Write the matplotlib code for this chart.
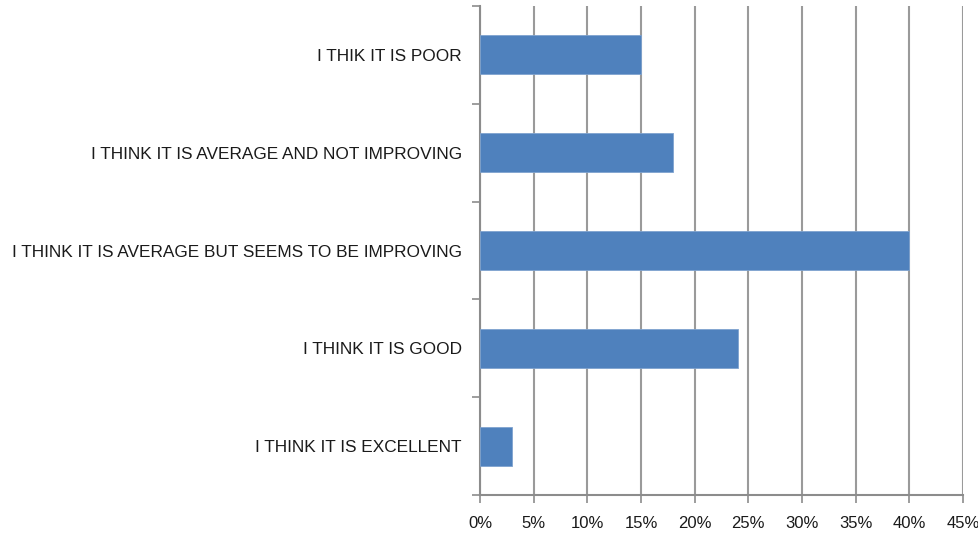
import numpy as np
import matplotlib.pyplot as plt
from matplotlib.ticker import PercentFormatter

# Survey answers, listed top to bottom
answers = [
    "I THIK IT IS POOR",
    "I THINK IT IS AVERAGE AND NOT IMPROVING",
    "I THINK IT IS AVERAGE BUT SEEMS TO BE IMPROVING",
    "I THINK IT IS GOOD",
    "I THINK IT IS EXCELLENT",
]
share = [15, 18, 40, 24, 3]  # percent of respondents
x_ticks = [0, 5, 10, 15, 20, 25, 30, 35, 40, 45]

plt.rcParams["font.family"] = ["Liberation Sans", "DejaVu Sans"]

fig = plt.figure(figsize=(9.79, 5.37), dpi=100)
ax = fig.add_axes([0.4903, 0.0782, 0.4934, 0.9106])

pos = np.arange(len(answers))
ax.barh(pos, share, height=0.4, color="#4F81BD", edgecolor="#7FA3CF", linewidth=0.6, zorder=3)

ax.set_ylim(len(answers) - 0.5, -0.5)
ax.set_xlim(0, 45)

# gridlines and x ticks
ax.set_xticks(x_ticks)
ax.xaxis.set_major_formatter(PercentFormatter(decimals=0))
ax.grid(axis="x", color="#9a9a9a", linewidth=1.5, zorder=0)
ax.tick_params(axis="x", direction="out", length=6, width=1.2, color="#8c8c8c",
               labelsize=12, labelcolor="#1a1a1a", pad=9)

# category boundaries get tick marks, labels sit at the centres
ax.set_yticks(np.arange(len(answers) + 1) - 0.5)
ax.set_yticklabels([])
ax.set_yticks(pos, minor=True)
ax.set_yticklabels(answers, minor=True)
ax.tick_params(axis="y", which="major", direction="out", length=6, width=1.2, color="#8c8c8c")
ax.tick_params(axis="y", which="minor", length=0, labelsize=12.4, labelcolor="#1a1a1a", pad=13)

for side in ["top", "right"]:
    ax.spines[side].set_visible(False)
for side in ["left", "bottom"]:
    ax.spines[side].set_color("#8c8c8c")
    ax.spines[side].set_linewidth(1.5)

fig.savefig("out.png", dpi=100)
